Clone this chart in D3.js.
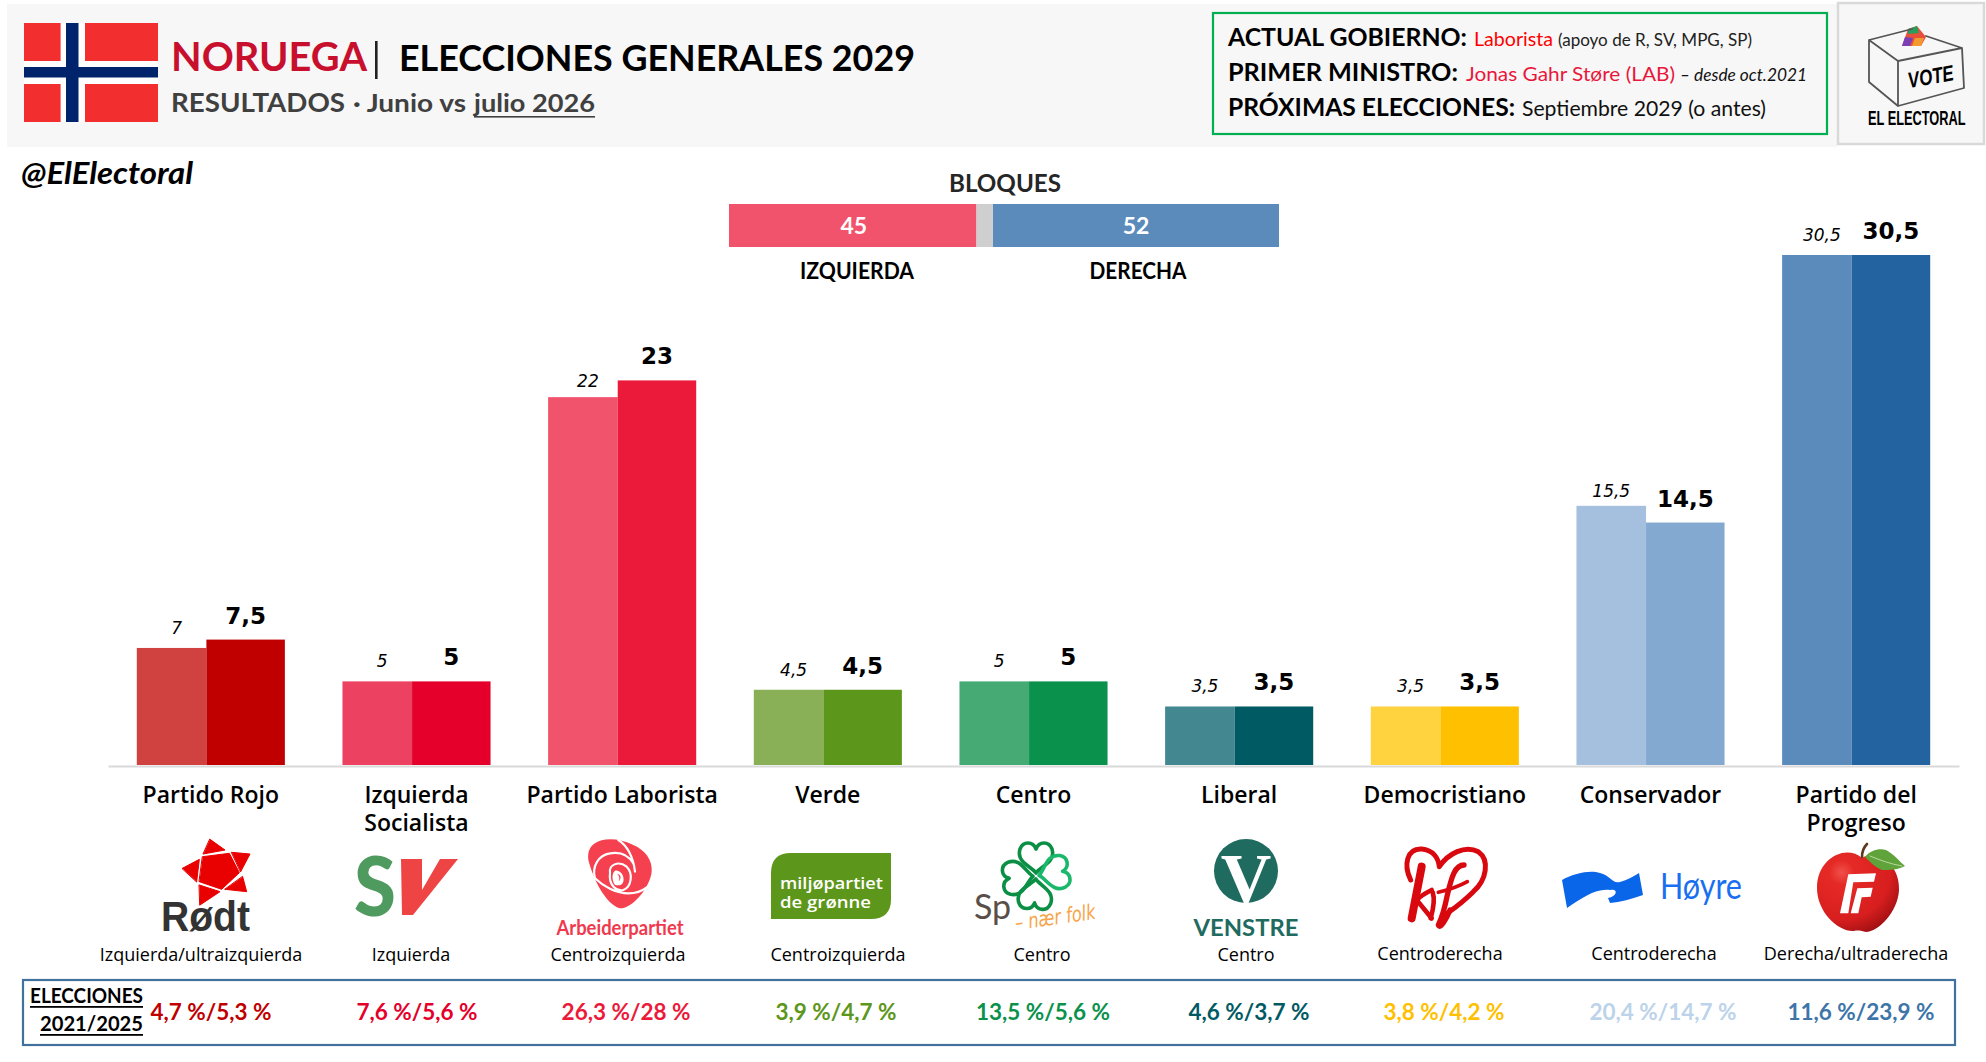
<!DOCTYPE html>
<html><head><meta charset="utf-8">
<script src="https://cdn.jsdelivr.net/npm/d3@7/dist/d3.min.js"></script>
<style>html,body{margin:0;padding:0;background:#fff}svg{display:block}text{font-family:Lato,sans-serif}</style>
</head><body><svg id="c" width="1986" height="1062"></svg>
<script>
// ---- data ----
const categories = ["Partido Rojo","Izquierda Socialista","Partido Laborista","Verde","Centro","Liberal","Democristiano","Conservador","Partido del Progreso"];
const junio = [7,5,22,4.5,5,3.5,3.5,15.5,30.5];
const julio = [7.5,5,23,4.5,5,3.5,3.5,14.5,30.5];
const ideologies = ["Izquierda/ultraizquierda","Izquierda","Centroizquierda","Centroizquierda","Centro","Centro","Centroderecha","Centroderecha","Derecha/ultraderecha"];
const elections = ["4,7 %/5,3 %","7,6 %/5,6 %","26,3 %/28 %","3,9 %/4,7 %","13,5 %/5,6 %","4,6 %/3,7 %","3,8 %/4,2 %","20,4 %/14,7 %","11,6 %/23,9 %"];
const blockNames = ["IZQUIERDA","","DERECHA"];
const blockValues = [45,3,52];
// ---- styles ----
const junioColors = ["#cf4240","#ec4160","#f2536c","#89b057","#46aa75","#438790","#ffd23f","#a4c0de","#5b8bbb"];
const julioColors = ["#c00000","#e4002b","#ec1a3a","#5c961a","#0a914c","#005a63","#ffc000","#83a9d0","#2363a0"];
const electionColors = ["#c00000","#e4002b","#ec1a3a","#5c961a","#0a914c","#005a63","#ffc000","#bcd3ea","#3e75a9"];
const blockColors = ["#f2536c","#cfcfcf","#5b8bbb"];
const ideologyX = [201,411,618,838,1042,1246,1440,1654,1856];
const electionX = [211,417,626,836,1043,1249,1444,1663,1861];
const junioLabelDy = [0,0,4,0,0,0,0,5,0];
const junioLabelDx = [0,0,0,0,0,0,0,-5,0];

const svg = d3.select("#c");
function T(x,y,s,size,o={}){
  const t = svg.append("text").attr("x",x).attr("y",y).text(s)
    .attr("font-size",size).attr("font-weight",o.w||400).attr("fill",o.f||"#000")
    .attr("text-anchor",o.a||"start").style("font-family",o.ff||"Lato,sans-serif");
  if(o.i) t.attr("font-style","italic");
  if(o.len) t.attr("textLength",o.len).attr("lengthAdjust","spacingAndGlyphs");
  if(o.rot) t.attr("transform",`rotate(${o.rot} ${x} ${y})`);
  return t;
}
function P(d,f,o={}){ return svg.append("path").attr("d",d).attr("fill",f).attr("stroke",o.s||"none").attr("stroke-width",o.sw||0).attr("stroke-linecap",o.cap||"round").attr("stroke-linejoin","round").attr("transform",o.t||null); }
function R(x,y,w,h,f,o={}){ return svg.append("rect").attr("x",x).attr("y",y).attr("width",w).attr("height",h).attr("fill",f).attr("stroke",o.s||"none").attr("stroke-width",o.sw||0); }

// ---- header ----
R(7,4,1830,143,"#f7f7f7");
R(24,23,134,99,"#f22e2e");
R(60.6,23,24.4,99,"#fff"); R(24,61,134,23,"#fff");
R(66,23,12.5,99,"#00246b"); R(24,67,134,10.5,"#00246b");
T(171,71,"NORUEGA",40,{w:700,f:"#c8102e",len:196});
R(375,41,2.6,38,"#222");
T(399,71,"ELECCIONES GENERALES 2029",36,{w:700,len:516});
T(171,112,"RESULTADOS",27,{w:700,f:"#404040",len:174});
T(353,112,"· Junio vs",24,{w:700,f:"#404040",len:113});
T(474,112,"julio 2026",24,{w:700,f:"#404040",len:121});
R(474,116,121,1.6,"#404040");
T(21,184,"@ElElectoral",30,{w:700,i:1,len:172});

R(1213,13,614,121,"#f7f7f7",{s:"#00b050",sw:2.2});
T(1228,46,"ACTUAL GOBIERNO:",25,{w:700,len:239});
T(1474,46,"Laborista",20,{f:"#ff0000",len:79});
T(1558,46,"(apoyo de R, SV, MPG, SP)",17,{f:"#222",len:194});
T(1228,81,"PRIMER MINISTRO:",25,{w:700,len:230});
T(1466,81,"Jonas Gahr Støre (LAB)",20,{f:"#e8173c",len:209});
T(1680,81,"– desde oct.2021",17,{i:1,f:"#111",len:127});
T(1228,116,"PRÓXIMAS ELECCIONES:",25,{w:700,len:287});
T(1522,116,"Septiembre 2029 (o antes)",21,{f:"#111",len:244});

// vote logo
R(1838,3,146,141,"#f7f7f7",{s:"#d9d9d9",sw:2.5});
P("M1902,46 L1908,29 L1917,26 L1926,37 L1921,46Z","#e8503a");
P("M1902,46 L1905,37 L1913,38 L1910,46Z","#7a3fb5");
P("M1908,29 L1917,26 L1919,33 L1908,34Z","#2a9d5c");
P("M1912,46 L1915,38 L1924,38 L1921,46Z","#f29a2e");
P("M1869,40 L1912,29 M1926,36 L1962,48 L1898,61 L1869,40 L1869,82 L1898,106 L1964,88 L1962,48 M1898,61 L1898,106","none",{s:"#555",sw:1.8});
T(1932,84,"VOTE",22,{w:900,i:1,a:"middle",rot:-10,ff:"'Liberation Sans',sans-serif",len:46});
T(0,0,"EL ELECTORAL",20,{w:900,ff:"'Liberation Sans',sans-serif"}).attr("transform","translate(1868,125) scale(0.64,1)");

// ---- blocks ----
T(1005,192,"BLOQUES",25,{w:700,a:"middle",f:"#262626",len:112});
const bx = d3.scaleLinear().domain([0,d3.sum(blockValues)]).range([729,1279]);
let acc=0;
const stack = blockValues.map(v=>{const a=acc;acc+=v;return [a,acc];});
svg.append("g").selectAll("rect").data(stack).join("rect")
  .attr("x",d=>bx(d[0])).attr("width",d=>bx(d[1])-bx(d[0])).attr("y",204).attr("height",43)
  .attr("fill",(d,i)=>blockColors[i]);
[0,2].forEach(i=>{
  const c=(bx(stack[i][0])+bx(stack[i][1]))/2;
  T(c+(i?0:1),234,String(blockValues[i]),23,{w:700,a:"middle",f:"#fff"});
  T(i?1138:857,279,blockNames[i],22.5,{w:700,a:"middle",len:i?97:114});
});

// ---- bars ----
const x = d3.scaleBand().domain(categories).range([108,1959]).paddingInner(0.28).paddingOuter(0.14);
const y = d3.scaleLinear().domain([0,30.5]).range([765,255]);
const prevW = x.bandwidth()*0.47, curW = x.bandwidth()*0.53;
const fmt = v=>String(v).replace(".",",");
const g = svg.append("g");
g.selectAll(".p").data(categories).join("rect").attr("class","p")
  .attr("x",d=>x(d)).attr("width",prevW)
  .attr("y",(d,i)=>y(junio[i])).attr("height",(d,i)=>y(0)-y(junio[i]))
  .attr("fill",(d,i)=>junioColors[i]);
g.selectAll(".c").data(categories).join("rect").attr("class","c")
  .attr("x",d=>x(d)+prevW).attr("width",curW)
  .attr("y",(d,i)=>y(julio[i])).attr("height",(d,i)=>y(0)-y(julio[i]))
  .attr("fill",(d,i)=>julioColors[i]);
g.selectAll(".pl").data(categories).join("text").attr("class","pl")
  .attr("x",(d,i)=>x(d)+prevW/2+5+junioLabelDx[i]).attr("y",(d,i)=>y(junio[i])-14+junioLabelDy[i])
  .attr("text-anchor","middle").attr("font-size",17).attr("font-style","italic")
  .style("font-family","'DejaVu Sans',sans-serif").text((d,i)=>fmt(junio[i]));
g.selectAll(".cl").data(categories).join("text").attr("class","cl")
  .attr("x",d=>x(d)+prevW+curW/2).attr("y",(d,i)=>y(julio[i])-16)
  .attr("text-anchor","middle").attr("font-size",23).attr("font-weight",700)
  .style("font-family","'DejaVu Sans',sans-serif").text((d,i)=>fmt(julio[i]));

// axis with category labels
const axis = svg.append("g").attr("transform","translate(0,766)").call(d3.axisBottom(x).tickSize(0).tickPadding(0));
axis.select(".domain").attr("stroke","#d9d9d9").attr("stroke-width",2);
const wrapLines = {"Izquierda Socialista":["Izquierda","Socialista"],"Partido del Progreso":["Partido del","Progreso"]};
axis.selectAll(".tick text").each(function(d){
  const t=d3.select(this).text(null).attr("y",0).attr("dy",null)
    .attr("font-size",23).attr("font-weight",600).attr("fill","#000")
    .style("font-family","'Open Sans',sans-serif");
  (wrapLines[d]||[d]).forEach((l,i)=>t.append("tspan").attr("x",0).attr("y",37+i*28).text(l));
});

// ideology labels
svg.append("g").selectAll("text").data(ideologies).join("text")
  .attr("x",(d,i)=>ideologyX[i]).attr("y",(d,i)=>i>=6?960:961).attr("text-anchor","middle")
  .attr("font-size",18).text(d=>d).style("font-family","'Open Sans',sans-serif");

// ---- elections row ----
R(23,980,1932,65,"#fff",{s:"#41719c",sw:2.2});
T(143,1003,"ELECCIONES",20,{w:700,a:"end",len:113});
R(30,1006,113,1.8,"#000");
T(143,1031,"2021/2025",20,{w:700,a:"end",len:103});
R(40,1034,103,1.8,"#000");
svg.append("g").selectAll("text").data(elections).join("text")
  .attr("x",(d,i)=>electionX[i]).attr("y",1020).attr("text-anchor","middle")
  .attr("font-size",22.5).attr("font-weight",700)
  .attr("fill",(d,i)=>electionColors[i]).text(d=>d);

// ---- party logos ----
const z=(x0,y0)=>`translate(${x0},${y0}) scale(${1/3})`;
// Rødt
const starPieces=["M180,28 L225,60 L160,72Z","M245,67 L300,72 L272,125Z","M278,140 L290,185 L225,178Z","M148,165 L210,185 L150,225Z","M97,115 L148,88 L140,155Z","M158,80 L238,70 L268,128 L215,178 L148,155Z"];
starPieces.forEach(d=>P(d,"#e90000",{s:"#e90000",sw:3,t:z(150,830)}));
T(161,931,"Rødt",42,{w:700,f:"#333",len:89,ff:"'Liberation Sans',sans-serif"});
// SV
T(354,916,"S",81,{w:900,f:"#4f9a5f",len:42});
P("M401,859 L422,859 L422,890 L440,859 L458,859 L413,915 L402,915Z","#ef4444");
// Arbeiderpartiet rose
const roseT=z(570,830);
P("M75,40 C100,22 150,25 190,45 C225,60 248,90 245,125 C240,170 190,235 150,235 C110,225 70,150 55,90 C52,65 60,50 75,40Z","#f5404f",{t:roseT});
P("M145,30 C170,45 190,80 195,125 M75,145 C65,110 85,75 120,70 C150,65 175,75 190,100 M75,145 C100,170 140,190 175,190 C200,190 220,180 230,172 M120,130 C115,105 145,90 170,110 C190,130 185,170 160,180 C140,185 115,165 120,130","none",{s:"#fff",sw:6.5,t:roseT});
P("M135,122 C148,118 165,135 160,155 C155,170 140,165 135,165 C125,150 125,130 135,122Z","#fff",{t:roseT});
P("M142,132 C152,132 156,146 146,154 C150,146 148,138 142,132Z","#f5404f",{t:roseT});
T(620,935,"Arbeiderpartiet",20,{w:700,a:"middle",f:"#f0394f",len:127});
// MDG
P("M771,919 L771,873 Q771,853 791,853 L891,853 L891,899 Q891,919 871,919Z","#5c961a");
T(780,889,"miljøpartiet",17,{w:600,f:"#fff",len:103,ff:"'Open Sans',sans-serif"});
T(780,908,"de grønne",17,{w:600,f:"#fff",len:91,ff:"'Open Sans',sans-serif"});
// Sp clover
const heart="M0,-3 C-5,-10 -20,-14 -16,-27 C-13,-35 -3,-35 0,-27 C3,-35 13,-35 16,-27 C20,-14 5,-10 0,-3Z";
[0,80,183,265].forEach((a,i)=>P(heart,"none",{s:i==1?"#19b86a":"#0a8f45",sw:3.6,t:`translate(1036,876) rotate(${a})`}));
T(974,919,"Sp",34,{f:"#5a4f48"});
T(1016,930,"– nær folk",21,{i:1,f:"#f7a44a",rot:-8,ff:"'DejaVu Sans',sans-serif",len:81});
// Venstre
svg.append("ellipse").attr("cx",1246).attr("cy",871).attr("rx",32).attr("ry",32).attr("fill","#1f6b5f");
T(1246,902,"V",70,{w:700,f:"#fff",a:"middle",ff:"'Liberation Serif',serif"});
T(1246,936,"VENSTRE",22,{w:700,f:"#1f6b5f",a:"middle",len:105});
// KrF
const krfT=z(1390,835);
P("M62,135 C40,90 50,40 95,42 C130,45 145,70 148,95 C175,55 225,30 265,50 C300,75 290,135 250,170 C215,205 185,225 165,240","none",{s:"#d9080f",sw:15,t:krfT});
P("M95,95 L65,250","none",{s:"#d9080f",sw:24,t:krfT});
P("M125,165 C105,175 90,185 80,195 L125,250","none",{s:"#d9080f",sw:14,t:krfT});
P("M128,172 C134,190 132,215 122,250","none",{s:"#d9080f",sw:14,t:krfT});
P("M222,90 C195,90 185,125 172,180 C165,215 155,250 145,270 C150,285 170,250 180,225","none",{s:"#d9080f",sw:16,t:krfT});
P("M145,172 C175,165 205,155 232,140","none",{s:"#d9080f",sw:11,t:krfT});
// Høyre
P("M1562,880 C1575,873 1590,870 1600,873 C1610,875 1612,884 1620,882 C1627,880 1634,876 1639,873 L1643,895 C1632,899 1620,902 1610,903 L1608,898 C1618,896 1618,888 1610,890 C1596,888 1582,898 1567,908Z","#0a66e8");
T(1660,899,"Høyre",36,{f:"#1a6ff0",len:82});
// FrP apple
const defs=svg.append("defs");
const rg=defs.append("radialGradient").attr("id","ap").attr("cx","30%").attr("cy","25%").attr("r","85%");
rg.append("stop").attr("offset","0%").attr("stop-color","#f0504a");
rg.append("stop").attr("offset","18%").attr("stop-color","#e52a26");
rg.append("stop").attr("offset","70%").attr("stop-color","#d81e1e");
rg.append("stop").attr("offset","100%").attr("stop-color","#9a0e12");
P("M1862,858 C1875,850 1900,862 1899,890 C1898,912 1878,932 1866,932 C1862,931 1858,930 1854,931 C1838,932 1817,912 1817,888 C1817,858 1846,844 1862,858Z","url(#ap)");
P("M1862,857 C1862,852 1864,847 1867,844","none",{s:"#5a3a20",sw:2.6});
P("M1865,857 C1870,850 1880,848 1886,850 C1894,854 1900,862 1905,866 C1898,870 1890,870 1882,870 C1876,868 1870,862 1865,857Z","#5fa33a");
P("M1870,856 C1880,860 1890,864 1902,866","none",{s:"#bcd8a2",sw:1});
P("M1848.3,874.3 L1876,873.3 L1874,881.7 L1853.3,882.3 L1848.3,913.3 L1840,913.3Z","#fff");
P("M1857.3,888.3 L1872.7,887.7 L1870.7,896.7 L1861.7,897.3 L1858.3,913.3 L1850.7,913.3Z","#fff");
</script></body></html>
